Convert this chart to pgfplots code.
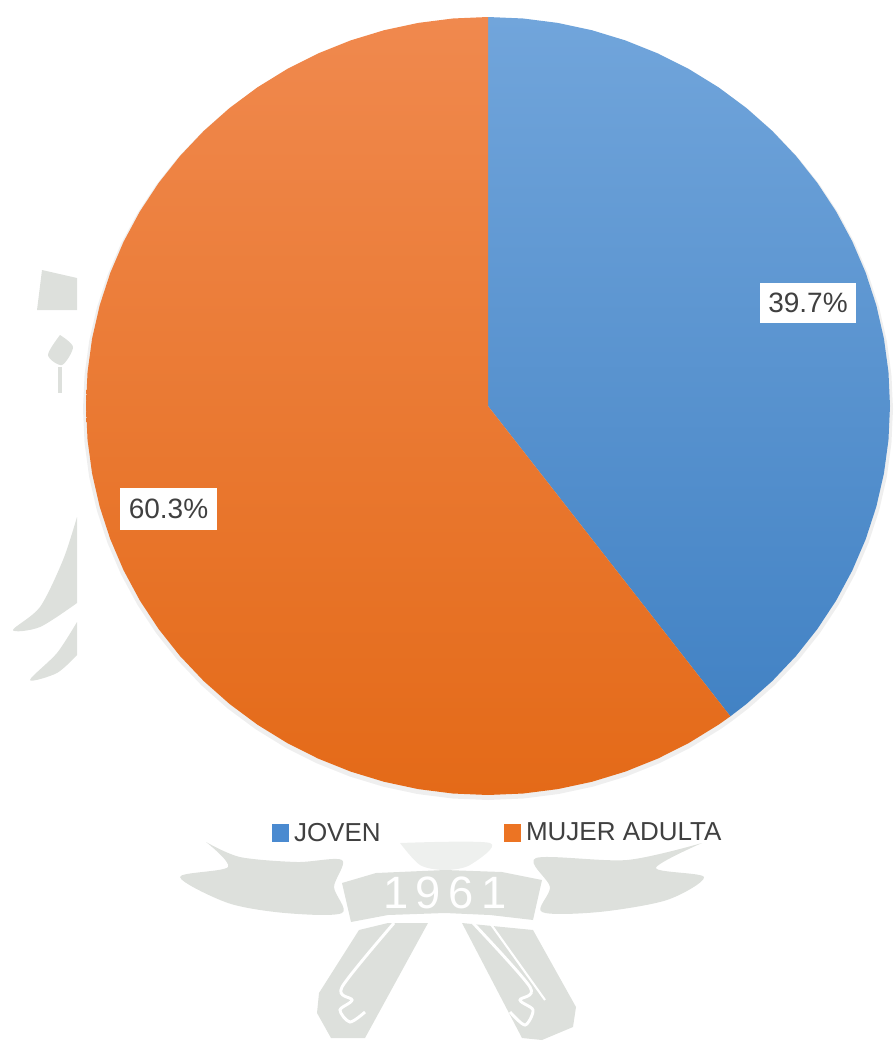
\documentclass[border=0pt]{standalone}
\usepackage{pgfplots}
\usepackage{pgfplotstable}
\usepackage{fontspec}
\setmainfont{Liberation Sans}
\pgfplotsset{compat=1.18}

\definecolor{wm}{HTML}{DDE0DC}
\definecolor{wmlight}{HTML}{EEF0EE}
\definecolor{labeltext}{HTML}{404040}

% Wedge outlines: polar angle (degrees) and radius.
% JOVEN 39.7 % = 142.92 degrees clockwise from twelve o'clock.
\pgfplotstableread{
deg r
0 0
90 1
85 1
80 1
75 1
70 1
65 1
60 1
55 1
50 1
45 1
40 1
35 1
30 1
25 1
20 1
15 1
10 1
5 1
0 1
-5 1
-10 1
-15 1
-20 1
-25 1
-30 1
-35 1
-40 1
-45 1
-50 1
-52.92 1
}\joven
% MUJER ADULTA 60.3 % = the remaining 217.08 degrees.
\pgfplotstableread{
deg r
0 0
-52.92 1
-55 1
-60 1
-65 1
-70 1
-75 1
-80 1
-85 1
-90 1
-95 1
-100 1
-105 1
-110 1
-115 1
-120 1
-125 1
-130 1
-135 1
-140 1
-145 1
-150 1
-155 1
-160 1
-165 1
-170 1
-175 1
-180 1
-185 1
-190 1
-195 1
-200 1
-205 1
-210 1
-215 1
-220 1
-225 1
-230 1
-235 1
-240 1
-245 1
-250 1
-255 1
-260 1
-265 1
-270 1
}\mujer

\begin{document}
\begin{tikzpicture}
\begin{axis}[
  at={(0,0)}, anchor=south west,
  scale only axis, width=669pt, height=781.5pt,
  xmin=0, xmax=892, ymin=0, ymax=1042, y dir=reverse,
  hide axis, clip=false,
  legend columns=2,
  legend cell align=left,
  legend style={draw=none, fill=none, inner sep=0pt, outer sep=0pt,
    at={(axis cs:272,833)}, anchor=west,
    font=\fontsize{19.5pt}{20pt}\selectfont\color{labeltext},
    /tikz/every even column/.style={column sep=89pt},
    nodes={inner xsep=3.5pt, inner ysep=0pt}},
  legend image code/.code={\fill[#1, draw=none] (0pt,-6.5pt) rectangle (13pt,6.5pt);},
]
% Page extent
\path (axis cs:0,0) rectangle (axis cs:892,1042);
% Crest in the background: ribbons, banner and legs
\addplot[forget plot, fill=wm, draw=none, smooth] coordinates {(206,842) (240,857) (297,862) (342,860) (334,887) (342,913) (285,913) (228,903) (180,877) (228,867) (206,842)};
\addplot[forget plot, fill=wm, draw=none, smooth] coordinates {(702,843) (627,860) (536,858) (550,887) (542,912) (599,912) (667,900) (704,877) (656,868) (702,843)};
\addplot[forget plot, fill=wmlight, draw=none, smooth] coordinates {(400,843) (490,843) (470,865) (445,870) (420,865) (400,843)};
\addplot[forget plot, fill=wm, draw=none] coordinates {(342,883) (376,873) (445,870) (502,872) (542,880) (533,920) (490,915) (445,913) (388,915) (351,922)};
\addplot[forget plot, fill=wm, draw=none] coordinates {(359,930) (319,993) (317,1013) (331,1038) (365,1038) (428,923) (388,923)};
\addplot[forget plot, fill=wm, draw=none] coordinates {(462,923) (533,930) (576,1007) (573,1027) (542,1040) (522,1038)};
\addplot[forget plot, white, line width=2.2pt, smooth] coordinates {(394,923) (342,987) (352,1000) (340,1010) (350,1022) (365,1012)};
\addplot[forget plot, white, line width=2.2pt, smooth] coordinates {(473,923) (530,987) (520,1000) (533,1010) (525,1025) (510,1012)};
\addplot[forget plot, white, line width=1.6pt] coordinates {(490,923) (545,1000)};
\node[text=white, font=\fontsize{34pt}{34pt}\selectfont] at (axis cs:445,893) {1\,9\,6\,1};
% Crest fragments at the left of the pie
\addplot[forget plot, fill=wm, draw=none] coordinates {(42,270) (77,278) (77,310) (37,310)};
\addplot[forget plot, fill=wm, draw=none, smooth] coordinates {(60,335) (73,347) (62,365) (48,355) (60,335)};
\addplot[forget plot, wm, line width=3pt] coordinates {(60,367) (60,393)};
\addplot[forget plot, fill=wm, draw=none, smooth] coordinates {(77,517) (63,560) (40,607) (13,630) (40,627) (77,603)};
\addplot[forget plot, fill=wm, draw=none, smooth] coordinates {(77,622) (57,653) (30,680) (57,673) (77,655)};
% Soft shadow under the pie
\addplot[forget plot, fill=black!60, fill opacity=0.10, draw=none] table[x expr={488+405*\thisrow{r}*cos(\thisrow{deg})}, y expr={409-391*\thisrow{r}*sin(\thisrow{deg})}] {\joven};
\addplot[forget plot, fill=black!60, fill opacity=0.10, draw=none] table[x expr={488+405*\thisrow{r}*cos(\thisrow{deg})}, y expr={409-391*\thisrow{r}*sin(\thisrow{deg})}] {\mujer};
% Pie wedges
\addplot[forget plot, draw=none, top color={rgb,255:red,113;green,165;blue,219}, middle color={rgb,255:red,89;green,152;blue,214}, bottom color={rgb,255:red,66;green,130;blue,196}]
  table[x expr={488+402*\thisrow{r}*cos(\thisrow{deg})}, y expr={406-389*\thisrow{r}*sin(\thisrow{deg})}] {\joven};
\addplot[forget plot, draw=none, top color={rgb,255:red,240;green,137;blue,78}, middle color={rgb,255:red,243;green,121;blue,40}, bottom color={rgb,255:red,228;green,106;blue,24}]
  table[x expr={488+402*\thisrow{r}*cos(\thisrow{deg})}, y expr={406-389*\thisrow{r}*sin(\thisrow{deg})}] {\mujer};
% Value labels
\node[fill=white, text=labeltext, font=\fontsize{21pt}{22pt}\selectfont, minimum width=72.5pt, minimum height=30.5pt, inner sep=0pt] at (axis cs:808,303) {39.7\%};
\node[fill=white, text=labeltext, font=\fontsize{21pt}{22pt}\selectfont, minimum width=72.5pt, minimum height=31pt, inner sep=0pt] at (axis cs:168.5,509) {60.3\%};
% Legend
\addlegendimage{fill={rgb,255:red,74;green,138;blue,208}}
\addlegendentry{JOVEN}
\addlegendimage{fill={rgb,255:red,236;green,116;blue,35}}
\addlegendentry{MUJER ADULTA}
\end{axis}
\end{tikzpicture}
\end{document}
